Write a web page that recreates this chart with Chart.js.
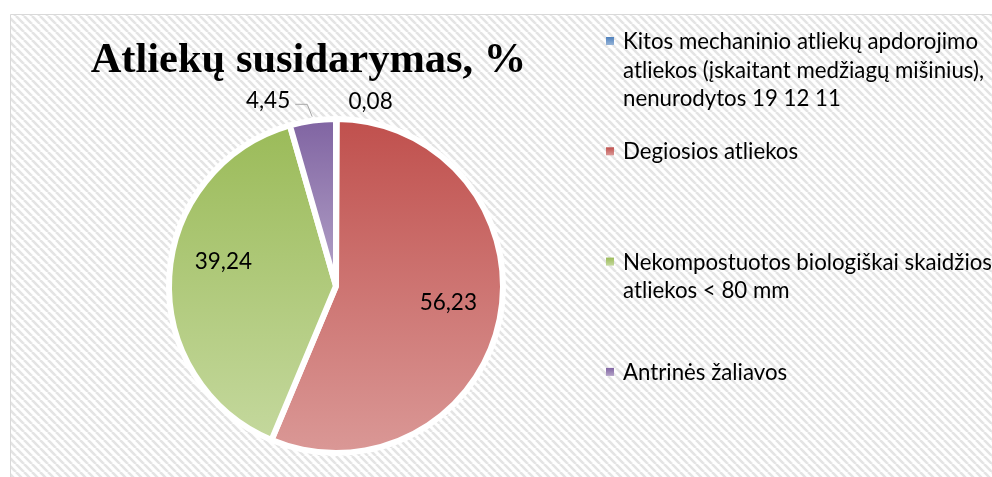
<!DOCTYPE html>
<html><head><meta charset="utf-8">
<script src="https://cdn.jsdelivr.net/npm/chart.js@4.4.0/dist/chart.umd.min.js"></script>
<style>html,body{margin:0;padding:0;background:#fff;overflow:hidden}#wrap{width:992px;height:477px;position:relative}</style>
</head><body><div id="wrap"><canvas id="c"></canvas></div>
<script>
// ---- data ----
const chartTitle = 'Atliekų susidarymas, %';
const categories = [
  ['Kitos mechaninio atliekų apdorojimo', 'atliekos (įskaitant medžiagų mišinius),', 'nenurodytos 19 12 11'],
  ['Degiosios atliekos'],
  ['Nekompostuotos biologiškai skaidžios', 'atliekos < 80 mm'],
  ['Antrinės žaliavos']
];
const values = [0.08, 56.23, 39.24, 4.45];

// ---- style ----
const topColors = ['#4F81BD', '#C0504D', '#9BBB59', '#8064A2'];
const bottomColors = ['#95B3D7', '#DA9896', '#C4D89D', '#B4A3C8'];
const labelPlace = [
  {out: true}, {frac: 0.68, shift: -3}, {frac: 0.69, shift: 8.8}, {out: true}
];
const fmt = v => v.toFixed(2).replace('.', ',');
const LABEL_FONT = 'Lato, "Noto Sans", sans-serif';

function yBounds(a) {
  const ys = [a.y, a.y + a.outerRadius * Math.sin(a.startAngle), a.y + a.outerRadius * Math.sin(a.endAngle)];
  for (const k of [-Math.PI / 2, Math.PI / 2, 3 * Math.PI / 2]) {
    if (k >= a.startAngle && k <= a.endAngle) ys.push(a.y + a.outerRadius * Math.sin(k));
  }
  return [Math.min(...ys), Math.max(...ys)];
}

const deco = {
  id: 'deco',
  beforeDraw(chart) {
    const ctx = chart.ctx, W = chart.width, H = chart.height;
    ctx.save();
    ctx.fillStyle = '#fff';
    ctx.fillRect(0, 0, W, H);
    const pc = document.createElement('canvas');
    pc.width = 8; pc.height = 8;
    const p = pc.getContext('2d');
    p.fillStyle = '#fff'; p.fillRect(0, 0, 8, 8);
    p.strokeStyle = '#e4e4e4'; p.lineWidth = 2.6;
    for (const o of [-8, 0, 8]) { p.beginPath(); p.moveTo(o, 0); p.lineTo(o + 8, 8); p.stroke(); }
    ctx.fillStyle = ctx.createPattern(pc, 'repeat');
    ctx.fillRect(10, 14, W - 10, H - 14);
    ctx.strokeStyle = '#d9d9d9'; ctx.lineWidth = 1;
    ctx.beginPath(); ctx.moveTo(10.5, H); ctx.lineTo(10.5, 14.5); ctx.lineTo(W, 14.5); ctx.stroke();
    ctx.restore();
  },
  beforeDatasetsDraw(chart) {
    const ctx = chart.ctx;
    chart.getDatasetMeta(0).data.forEach((a, i) => {
      const [y0, y1] = yBounds(a);
      const g = ctx.createLinearGradient(0, y0, 0, y1);
      g.addColorStop(0, topColors[i]);
      g.addColorStop(1, bottomColors[i]);
      a.options = Object.assign({}, a.options, {backgroundColor: g});
    });
  },
  afterDatasetsDraw(chart) {
    const ctx = chart.ctx;
    const meta = chart.getDatasetMeta(0);
    ctx.save();
    ctx.font = '22.5px ' + LABEL_FONT;
    ctx.fillStyle = '#000';
    ctx.textBaseline = 'middle';
    meta.data.forEach((a, i) => {
      const cfg = labelPlace[i];
      const mid = (a.startAngle + a.endAngle) / 2;
      const txt = fmt(chart.data.datasets[0].data[i]);
      if (cfg.out) {
        const r = a.outerRadius;
        const px = a.x + (r + 18) * Math.cos(mid), py = a.y + (r + 18) * Math.sin(mid);
        if (px < a.x - 5) {
          ctx.textAlign = 'right';
          ctx.fillText(txt, px - 20, py - 2);
          ctx.strokeStyle = '#a6a6a6'; ctx.lineWidth = 1;
          ctx.beginPath();
          ctx.moveTo(px - 15, py + 1.5);
          ctx.lineTo(px - 3, py + 1.5);
          ctx.lineTo(a.x + (r + 4) * Math.cos(mid), a.y + (r + 4) * Math.sin(mid));
          ctx.stroke();
        } else {
          ctx.textAlign = 'left';
          ctx.fillText(txt, px + 12, py + 1);
        }
      } else {
        const ang = mid + cfg.shift * Math.PI / 180;
        const d = a.outerRadius * cfg.frac;
        ctx.textAlign = 'center';
        ctx.fillText(txt, a.x + d * Math.cos(ang), a.y + d * Math.sin(ang));
      }
    });
    ctx.restore();
  },
  afterDraw(chart) {
    const ctx = chart.ctx;
    ctx.save();
    ctx.fillStyle = '#000';
    ctx.textBaseline = 'alphabetic';
    ctx.textAlign = 'center';
    ctx.font = 'bold 42.5px "Liberation Serif", "Times New Roman", serif';
    ctx.fillText(chartTitle, 308.5, 72);
    // legend
    let size = 22;
    ctx.font = size + 'px ' + LABEL_FONT;
    const w = ctx.measureText(categories[0][0]).width;
    size = size * 355 / w;
    ctx.font = size.toFixed(2) + 'px ' + LABEL_FONT;
    ctx.textAlign = 'left';
    chart.data.labels.forEach((lines, i) => {
      const base = 49 + i * 110.3;
      const g = ctx.createLinearGradient(0, base - 12, 0, base - 4);
      g.addColorStop(0, topColors[i]); g.addColorStop(1, bottomColors[i]);
      ctx.fillStyle = g;
      ctx.fillRect(606, base - 12, 8, 8);
      ctx.fillStyle = '#000';
      lines.forEach((ln, j) => ctx.fillText(ln, 623, base + j * 28.5));
    });
    ctx.restore();
  }
};

new Chart(document.getElementById('c'), {
  type: 'pie',
  data: {
    labels: categories,
    datasets: [{
      data: values,
      backgroundColor: topColors,
      borderColor: '#ffffff',
      borderWidth: 6
    }]
  },
  options: {
    responsive: true,
    maintainAspectRatio: false,
    animation: false,
    radius: 167,
    layout: {padding: {left: 170, right: 490, top: 120, bottom: 25}},
    plugins: {legend: {display: false}, title: {display: false}, tooltip: {enabled: false}}
  },
  plugins: [deco]
});
</script>
</body></html>
